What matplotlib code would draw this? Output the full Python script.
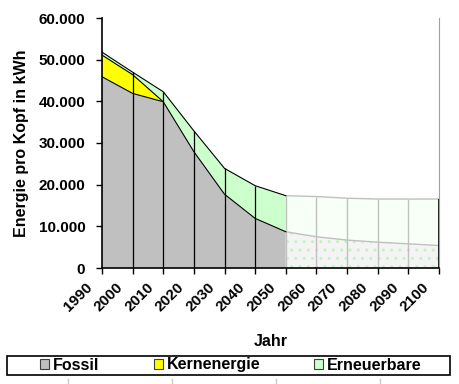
import matplotlib
matplotlib.use("Agg")
import matplotlib.pyplot as plt
import matplotlib.transforms as mtransforms
from matplotlib.patches import Patch, Rectangle
from matplotlib.lines import Line2D
import numpy as np

plt.rcParams['font.family'] = ['Liberation Sans', 'DejaVu Sans']
plt.rcParams['font.weight'] = 'bold'

# Data (kWh per capita)
years = [1990, 2000, 2010, 2020, 2030, 2040, 2050]
fossil = [45900, 41900, 39900, 27900, 17700, 11900, 8700]
kern = [5200, 4500, 0, 0, 0, 0, 0]
erneuerbar = [700, 600, 2400, 5000, 6200, 7850, 8650]

future_years = [2050, 2060, 2070, 2080, 2090, 2100]
future_fossil = [8700, 7500, 6700, 6200, 5800, 5400]
future_total = [17350, 17150, 16750, 16550, 16550, 16550]

tick_years = [1990, 2000, 2010, 2020, 2030, 2040, 2050, 2060, 2070, 2080, 2090, 2100]
yticks = [0, 10000, 20000, 30000, 40000, 50000, 60000]
ytick_labels = ['0', '10.000', '20.000', '30.000', '40.000', '50.000', '60.000']
legend_labels = ['Fossil', 'Kernenergie', 'Erneuerbare']
colors = ['#c0c0c0', '#ffff00', '#ccffcc']

W, H = 460, 384
fig = plt.figure(figsize=(W / 100, H / 100), dpi=100)
ax = fig.add_axes([102/W, 1 - 268/H, 337/W, 250/H])

y = np.array(years)
f = np.array(fossil)
k = np.array(kern)
e = np.array(erneuerbar)
top1 = f + k
top2 = top1 + e

ax.fill_between(y, 0, f, facecolor=colors[0], edgecolor='none', zorder=1)
ax.fill_between(y, f, top1, facecolor=colors[1], edgecolor='none', zorder=1)
ax.fill_between(y, top1, top2, facecolor=colors[2], edgecolor='none', zorder=1)
ax.plot(y, f, color='black', lw=0.8, zorder=3)
idx = np.where(k > 0)[0]
ax.plot(y[:idx[-1] + 2], top1[:idx[-1] + 2], color='black', lw=0.8, zorder=3)
ax.plot(y, top2, color='black', lw=0.8, zorder=3)

fy = np.array(future_years)
ff = np.array(future_fossil)
ft = np.array(future_total)
ax.fill_between(fy, 0, ff, facecolor='#f4f4f4', edgecolor='#c4f2c4', hatch='..', linewidth=0, zorder=1)
ax.fill_between(fy, ff, ft, facecolor='#f7fff7', edgecolor='none', zorder=1)
ax.plot(fy, ff, color='#c0c0c0', lw=1.0, zorder=2)
ax.plot(fy, ft, color='#c0c0c0', lw=1.0, zorder=2)

# drop lines
ax.vlines(y[1:-1], 0, top2[1:-1], color='black', lw=0.9, zorder=3)
ax.vlines(fy[:-1], 0, ft[:-1], color='#c0c0c0', lw=1.0, zorder=2)
ax.vlines(fy[-1:], 0, ft[-1:], color='black', lw=1.2, zorder=3)

ax.set_xlim(1990, 2100)
ax.set_ylim(0, 60000)
ax.set_xticks(tick_years)
ax.set_yticks(yticks)
ax.set_yticklabels(ytick_labels, fontsize=11, fontweight='bold')
ax.tick_params(axis='both', direction='out', length=4, width=1, color='black', pad=2)
ax.tick_params(axis='y', pad=8)
ax.set_xticklabels([str(t) for t in tick_years], rotation=45, fontsize=11, fontweight='bold')
offset = mtransforms.ScaledTranslation(-12/100, -9/100, fig.dpi_scale_trans)
for lab in ax.get_xticklabels():
    lab.set_ha('right')
    lab.set_va('center')
    lab.set_rotation_mode('anchor')
    lab.set_transform(lab.get_transform() + offset)

ax.spines['top'].set_visible(False)
ax.spines['right'].set_color('#a0a0a0')
ax.spines['left'].set_linewidth(1.2)
ax.spines['bottom'].set_linewidth(1.2)

ax.set_ylabel('Energie pro Kopf in kWh', fontsize=11.5, fontweight='bold', labelpad=7)
ax.set_xlabel('Jahr', fontsize=11.5, fontweight='bold', labelpad=14)

# legend box
fig.add_artist(Rectangle((7/W, 1 - 375/H), 443/W, 19/H, transform=fig.transFigure,
                         facecolor='white', edgecolor='black', lw=1.2, zorder=0))
fs = 11.5
fspx = fs * 100 / 72
handles = [Patch(facecolor=c, edgecolor='#404040', linewidth=0.8) for c in colors]
leg = fig.legend(handles, legend_labels, loc='center',
                 bbox_to_anchor=(231/W, 1 - 365/H),
                 ncol=3, frameon=False, fontsize=fs,
                 handlelength=9/fspx, handleheight=9/fspx,
                 handletextpad=4/fspx, columnspacing=54/fspx,
                 borderpad=0, borderaxespad=0)
for t in leg.get_texts():
    t.set_fontweight('bold')

# small marks below legend
for xm in [68, 172, 276, 380]:
    fig.add_artist(Line2D([xm/W, xm/W], [0, 5/H], transform=fig.transFigure,
                          color='#c8c8c8', lw=1))

fig.savefig('out.png', dpi=100)
